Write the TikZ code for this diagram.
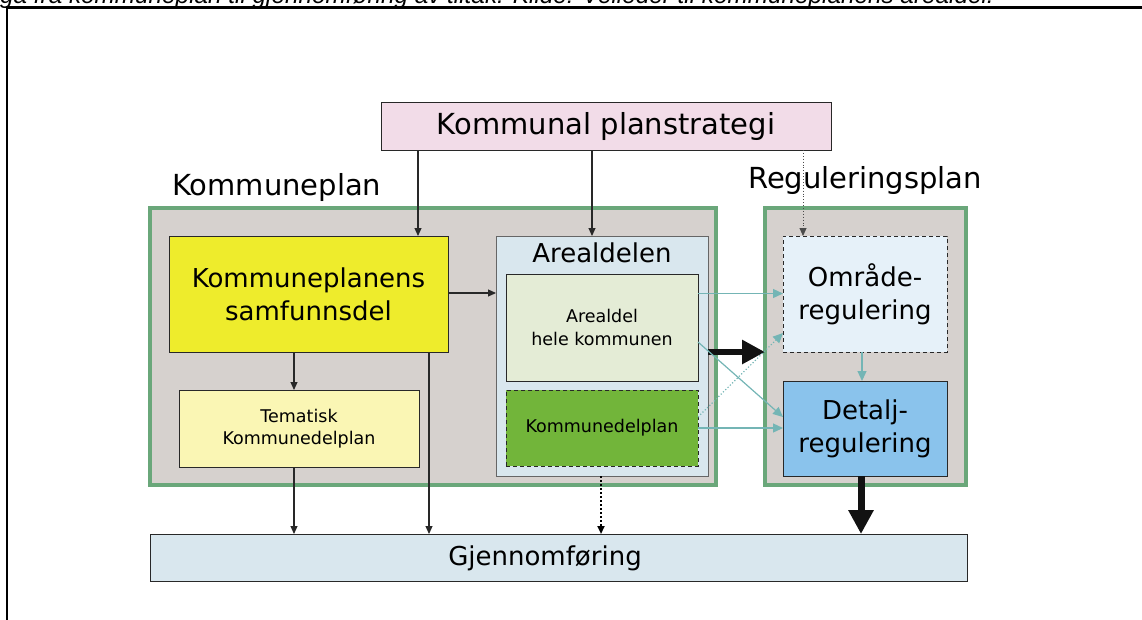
\documentclass[tikz,border=0pt]{standalone}
\usepackage{fontspec}
\setmainfont{DejaVu Sans}
\newfontfamily\capfont{Liberation Sans}
\usetikzlibrary{arrows.meta}

\definecolor{cGreen}{RGB}{106,167,122}
\definecolor{cGray}{RGB}{214,209,206}
\definecolor{cPlan}{RGB}{242,220,232}
\definecolor{cYellow}{RGB}{238,236,44}
\definecolor{cTem}{RGB}{250,246,180}
\definecolor{cAreal}{RGB}{217,231,238}
\definecolor{cHele}{RGB}{228,236,214}
\definecolor{cKdp}{RGB}{114,181,58}
\definecolor{cOmr}{RGB}{230,241,249}
\definecolor{cDet}{RGB}{138,195,236}
\definecolor{cTeal}{RGB}{116,181,181}
\definecolor{cLine}{RGB}{40,40,40}

\tikzset{
  box/.style={draw=cLine, line width=1pt, inner sep=0pt, outer sep=0pt, align=center},
  dashbox/.style={box, dash pattern=on 4pt off 3pt},
  group/.style={draw=cGreen, fill=cGray, line width=4pt, inner sep=0pt, outer sep=0pt},
  big/.style={font=\fontsize{29}{34}\selectfont},
  mid/.style={font=\fontsize{26}{33}\selectfont},
  small/.style={font=\fontsize{17.5}{22.5}\selectfont},
  conn/.style={draw=cLine, line width=1.1pt, -{Triangle[length=8pt,width=7pt]}},
  tconn/.style={draw=cTeal, line width=1.2pt, -{Triangle[length=10pt,width=9pt]}},
  fatarrow/.style={draw=black!93, line width=7pt, -{Triangle[length=24pt,width=24pt]}},
}

\begin{document}
\begin{tikzpicture}[x=1pt,y=-1pt]
\useasboundingbox (0,0) rectangle (1142,619);
\clip (0,0) rectangle (1142,619);

% caption line and frame
\node[anchor=base west, inner sep=0pt, font=\capfont\itshape\fontsize{24.3}{28}\selectfont] (caption) at (0,3)
  {ga fra kommuneplan til gjennomføring av tiltak. Kilde: Veileder til kommuneplanens arealdel.};
\draw[line width=2.5pt, black] (7,625) -- (7,7.5) -- (1150,7.5);

% top level
\node[box, fill=cPlan, big, minimum width=450pt, minimum height=48pt] (plan) at (606,126) {Kommunal planstrategi};

% group frames
\node[group, minimum width=566pt, minimum height=277.5pt] (kp) at (433,346.25) {};
\node[group, minimum width=201pt, minimum height=277pt] (rp) at (865.5,346.5) {};
\node[anchor=base west, inner sep=0pt, big] (kplabel) at (172,195) {Kommuneplan};
\node[anchor=base west, inner sep=0pt, big] (rplabel) at (748,188) {Reguleringsplan};

% Kommuneplan contents
\node[box, fill=cYellow, mid, minimum width=279pt, minimum height=116pt] (samf) at (308.5,294) {Kommuneplanens\\samfunnsdel};
\node[box, fill=cTem, small, minimum width=240pt, minimum height=77pt] (tem) at (299,428.5) {Tematisk\\Kommunedelplan};
\node[box, draw=black!60, fill=cAreal, minimum width=212pt, minimum height=240pt] (areal) at (602,356) {};
\node[anchor=base, inner sep=0pt, mid] (areallabel) at (602,262) {Arealdelen};
\node[box, fill=cHele, small, minimum width=192pt, minimum height=107pt] (hele) at (602,327.5) {Arealdel\\hele kommunen};
\node[dashbox, fill=cKdp, small, minimum width=192pt, minimum height=76pt] (kdp) at (602,428) {Kommunedelplan};

% Reguleringsplan contents
\node[dashbox, fill=cOmr, mid, minimum width=164pt, minimum height=116pt] (omr) at (865,294) {Område-\\regulering};
\node[box, fill=cDet, mid, minimum width=164pt, minimum height=95pt] (det) at (865,428.5) {Detalj-\\regulering};

% implementation
\node[box, fill=cAreal, minimum width=817pt, minimum height=47pt] (gj) at (558.5,557.5) {};
\node[inner sep=0pt, mid] (gjlabel) at (545,558) {Gjennomføring};

% helper coordinates for connector positions
\coordinate (xa) at (418,0);
\coordinate (xb) at (592,0);
\coordinate (xc) at (803,0);
\coordinate (xd) at (294,0);
\coordinate (xe) at (429,0);
\coordinate (xf) at (601,0);
\coordinate (xg) at (861,0);
\coordinate (xh) at (862,0);
\coordinate (ya) at (0,293);
\coordinate (yb) at (0,293.5);
\coordinate (yc) at (0,342);
\coordinate (yd) at (0,417);
\coordinate (ye) at (0,333);
\coordinate (yf) at (0,428);
\coordinate (yg) at (0,352);

% black connectors
\draw[conn] (plan.south -| xa) -- (samf.north -| xa);
\draw[conn] (plan.south -| xb) -- (areal.north -| xb);
\draw[conn, draw=black!70, line width=0.9pt, dotted] (plan.south -| xc) -- (omr.north -| xc);
\draw[conn] (samf.east |- ya) -- (areal.west |- ya);
\draw[conn] (samf.south -| xd) -- (tem.north -| xd);
\draw[conn] (tem.south -| xd) -- (gj.north -| xd);
\draw[conn] (samf.south -| xe) -- (gj.north -| xe);
\draw[conn, draw=black, line width=2pt, dash pattern=on 2pt off 2pt] (areal.south -| xf) -- (gj.north -| xf);
\draw[fatarrow] (det.south -| xg) -- (gj.north -| xg);
\draw[fatarrow, line width=6.5pt, -{Triangle[length=23pt,width=23pt]}] (areal.east |- yg) -- (rp.west |- yg);

% teal connectors
\draw[tconn] (hele.east |- yb) -- (omr.west |- yb);
\draw[tconn] (hele.east |- yc) -- (det.west |- yd);
\draw[tconn, dotted] (kdp.east |- yd) -- (omr.west |- ye);
\draw[tconn] (kdp.east |- yf) -- (det.west |- yf);
\draw[tconn] (omr.south -| xh) -- (det.north -| xh);
\end{tikzpicture}
\end{document}
